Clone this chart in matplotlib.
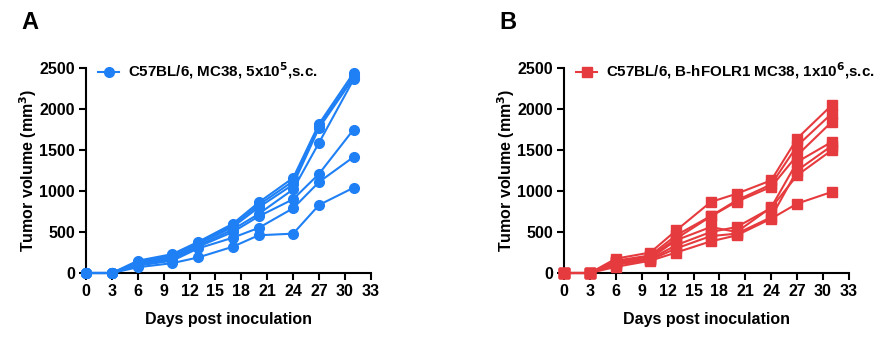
import numpy as np
import matplotlib
matplotlib.use('Agg')
import matplotlib.pyplot as plt

plt.rcParams['font.family'] = ['Liberation Sans', 'DejaVu Sans']
plt.rcParams['font.weight'] = 'bold'

# Days of measurement
days = [0, 3, 6, 10, 13, 17, 20, 24, 27, 31]

# Panel A: C57BL/6, MC38 (one row per mouse)
mc38 = [
    [0, 0, 150, 230, 380, 600, 860, 1160, 1820, 2440],
    [0, 0, 130, 220, 370, 580, 830, 1120, 1790, 2400],
    [0, 0, 120, 200, 350, 560, 800, 1080, 1770, 2380],
    [0, 0, 110, 180, 330, 530, 720, 1020, 1590, 2360],
    [0, 0, 100, 170, 320, 500, 690, 900, 1210, 1750],
    [0, 0, 90, 150, 300, 430, 550, 790, 1110, 1415],
    [0, 0, 70, 120, 190, 320, 460, 480, 830, 1040],
]

# Panel B: C57BL/6, B-hFOLR1 MC38
folr1 = [
    [0, 0, 175, 250, 520, 866, 967, 1130, 1640, 2045],
    [0, 0, 150, 215, 460, 695, 886, 1080, 1550, 1943],
    [0, 0, 140, 200, 420, 690, 870, 1050, 1435, 1841],
    [0, 0, 130, 180, 400, 561, 500, 800, 1354, 1598],
    [0, 0, 120, 170, 340, 500, 561, 793, 1191, 1496],
    [0, 0, 100, 160, 300, 450, 480, 680, 1250, 1550],
    [0, 0, 75, 150, 250, 386, 459, 663, 846, 988],
]

legend_a = 'C57BL/6, MC38, 5x10$^{\\mathbf{5}}$,s.c.'
legend_b = 'C57BL/6, B-hFOLR1 MC38, 1x10$^{\\mathbf{6}}$,s.c.'
xticks = list(range(0, 34, 3))
yticks = [0, 500, 1000, 1500, 2000, 2500]

fig = plt.figure(figsize=(8.93, 3.38), dpi=100)


def panel(rect, data, color, marker, msize, label, letter):
    ax = fig.add_axes(rect)
    for i, row in enumerate(data):
        ax.plot(days, row, color=color, marker=marker, markersize=msize,
                linewidth=1.5, clip_on=False, zorder=3,
                label=label if i == 0 else None)
    ax.set_xlim(0, 33)
    ax.set_ylim(0, 2500)
    ax.set_xticks(xticks)
    ax.set_yticks(yticks)
    for s in ['top', 'right']:
        ax.spines[s].set_visible(False)
    for s in ['left', 'bottom']:
        ax.spines[s].set_linewidth(1.5)
    ax.tick_params(width=1.5, length=5, labelsize=11.5, pad=3)
    for t in ax.get_xticklabels() + ax.get_yticklabels():
        t.set_fontweight('bold')
    ax.set_xlabel('Days post inoculation', fontsize=11.5, fontweight='bold', labelpad=9)
    ax.set_ylabel('Tumor volume (mm$^{\\mathbf{3}}$)', fontsize=11.5, fontweight='bold', labelpad=0)
    ax.legend(loc='upper left', bbox_to_anchor=(0.01, 1.08), frameon=False,
              handlelength=1.4, handletextpad=0.6, borderaxespad=0.2,
              prop={'weight': 'bold', 'size': 10.9})
    ax.text(-0.196, 1.224, letter, transform=ax.transAxes, fontsize=17,
            fontweight='bold', va='center', ha='center')
    return ax


panel([0.0963, 0.1923, 0.319, 0.6065], mc38, '#1F80F5', 'o', 7, legend_a, 'A')
panel([0.6316, 0.1923, 0.319, 0.6065], folr1, '#E63B3E', 's', 7, legend_b, 'B')

fig.savefig('out.png', dpi=100)
